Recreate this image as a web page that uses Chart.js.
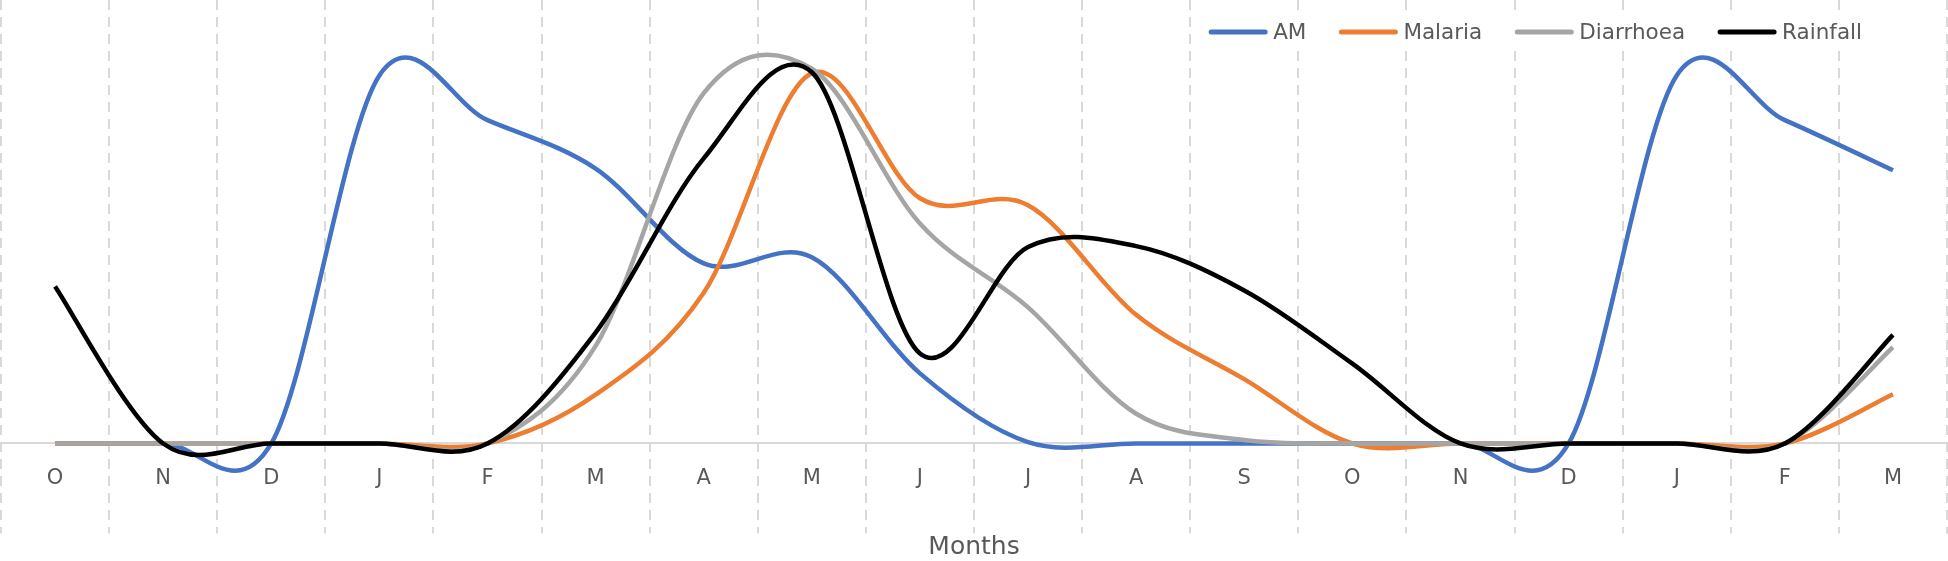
<!DOCTYPE html>
<html>
<head>
<meta charset="utf-8">
<script src="https://cdn.jsdelivr.net/npm/chart.js@4.4.1/dist/chart.umd.min.js"></script>
<style>
  html, body { margin: 0; padding: 0; background: #ffffff; }
  canvas { display: block; }
</style>
</head>
<body>
<canvas id="chart" width="1948" height="561"></canvas>
<script>
// Values, common scale 0..100 (top of plot = 100)
const months = ['O', 'N', 'D', 'J', 'F', 'M', 'A', 'M', 'J', 'J', 'A', 'S', 'O', 'N', 'D', 'J', 'F', 'M'];
const amValues = [0, 0, 0, 83, 72.9, 62, 40.6, 42, 15.8, 0.3, 0, 0, 0, 0, 0, 83, 72.9, 61.6];
const malariaValues = [0, 0, 0, 0, 0, 11, 34, 83.5, 55.3, 53.7, 29, 14.5, 0, 0, 0, 0, 0, 11.1];
const diarrhoeaValues = [0, 0, 0, 0, 0, 22, 79, 84.5, 49.6, 30.7, 6.7, 0.8, 0, 0, 0, 0, 0, 21.7];
const rainfallValues = [35.4, 0, 0, 0, 0, 25, 64.3, 83.7, 20.3, 44.3, 44.5, 34.5, 18, 0, 0, 0, 0, 24.5];

const textColor = '#595959';
const fontFamily = '"DejaVu Sans", sans-serif';

// Excel style smoothing: uniform Catmull-Rom control points (1/6 of neighbour span)
const excelSmooth = {
    id: 'excelSmooth',
    beforeDatasetsDraw(chart) {
        chart.getSortedVisibleDatasetMetas().forEach(meta => {
            if (!meta.dataset) return;
            meta.dataset.updateControlPoints(chart.chartArea, 'x');
            const pts = meta.data;
            for (let i = 0; i < pts.length; i++) {
                const p = pts[i];
                const prev = pts[i - 1] || p;
                const next = pts[i + 1] || p;
                const dx = (next.x - prev.x) / 6;
                const dy = (next.y - prev.y) / 6;
                p.cp1x = p.x - dx;
                p.cp1y = p.y - dy;
                p.cp2x = p.x + dx;
                p.cp2y = p.y + dy;
            }
        });
    }
};

// legend drawn on top of the plot, with a white box behind it (like Excel)
const overlayLegend = {
    id: 'overlayLegend',
    afterDraw(chart) {
        const ctx = chart.ctx;
        const lineLen = 58;
        const textGap = 6;
        const itemGap = 33;
        const yMid = 32;
        ctx.save();
        ctx.font = '21.5px ' + fontFamily;
        const items = chart.data.datasets.map(ds => ({
            label: ds.label,
            color: ds.borderColor,
            w: ctx.measureText(ds.label).width
        }));
        let total = 0;
        items.forEach((it, i) => {
            total += lineLen + textGap + it.w + (i < items.length - 1 ? itemGap : 0);
        });
        let x = 1862 - total;
        ctx.fillStyle = '#ffffff';
        ctx.fillRect(x - 12, 17, total + 24, 32);
        ctx.textBaseline = 'middle';
        ctx.lineCap = 'round';
        items.forEach(it => {
            ctx.strokeStyle = it.color;
            ctx.lineWidth = 5;
            ctx.beginPath();
            ctx.moveTo(x + 2, yMid);
            ctx.lineTo(x + lineLen - 2, yMid);
            ctx.stroke();
            x += lineLen + textGap;
            ctx.fillStyle = textColor;
            ctx.fillText(it.label, x, yMid + 1);
            x += it.w + itemGap;
        });
        ctx.restore();
    }
};

const ctx = document.getElementById('chart');

new Chart(ctx, {
    type: 'line',
    data: {
        labels: months,
        datasets: [
            { label: 'AM', data: amValues, borderColor: '#4472C4', order: 3 },
            { label: 'Malaria', data: malariaValues, borderColor: '#ED7D31', order: 2 },
            { label: 'Diarrhoea', data: diarrhoeaValues, borderColor: '#A5A5A5', order: 1 },
            { label: 'Rainfall', data: rainfallValues, borderColor: '#000000', order: 0 }
        ]
    },
    options: {
        responsive: false,
        animation: false,
        layout: { padding: { left: 1, right: 1, top: 0, bottom: 0 } },
        elements: {
            line: { borderWidth: 4.5, tension: 0.35, fill: false, capBezierPoints: false },
            point: { radius: 0, hoverRadius: 0 }
        },
        scales: {
            x: {
                position: { y: 0 },
                offset: true,
                grid: {
                    offset: true,
                    color: '#d9d9d9',
                    lineWidth: 2,
                    drawTicks: false
                },
                border: { display: false, dash: [10, 7] },
                ticks: {
                    color: textColor,
                    font: { family: fontFamily, size: 21 },
                    padding: 22,
                    maxRotation: 0,
                    autoSkip: false
                }
            },
            y: {
                min: -20.3,
                max: 100,
                grid: {
                    drawTicks: false,
                    lineWidth: 2,
                    color: c => (c.tick && c.tick.value === 0 ? '#d9d9d9' : 'rgba(0,0,0,0)')
                },
                border: { display: false },
                ticks: { display: false, stepSize: 10 }
            }
        },
        plugins: {
            legend: { display: false },
            tooltip: { enabled: false },
            title: {
                display: true,
                position: 'bottom',
                text: 'Months',
                color: textColor,
                font: { family: fontFamily, size: 25, weight: 'normal', lineHeight: 1.1 },
                padding: { top: 0, bottom: 0 }
            }
        }
    },
    plugins: [excelSmooth, overlayLegend]
});
</script>
</body>
</html>
